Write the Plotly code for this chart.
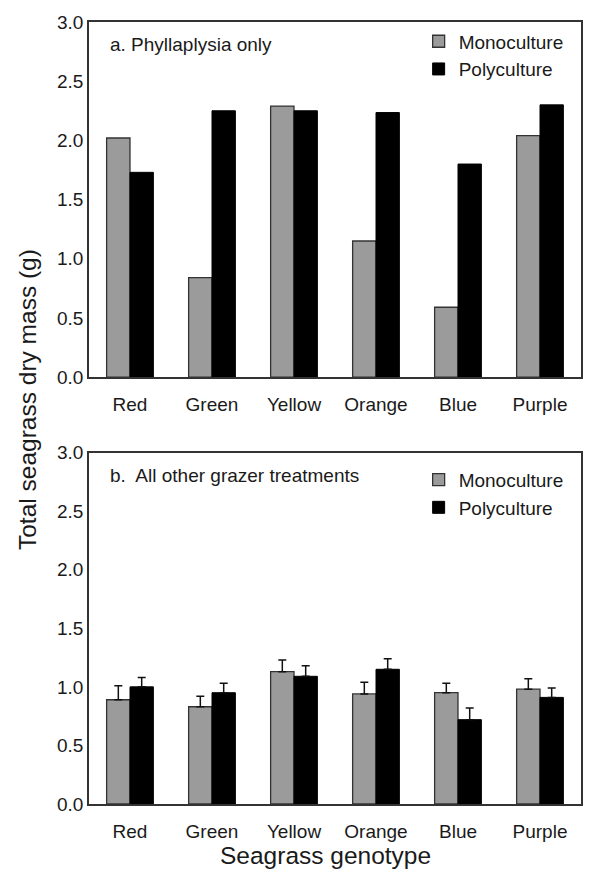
import plotly.graph_objects as go
from plotly.subplots import make_subplots

genotypes = ["Red", "Green", "Yellow", "Orange", "Blue", "Purple"]

# Panel a: Phyllaplysia only
mono_a = [2.02, 0.84, 2.29, 1.15, 0.59, 2.04]
poly_a = [1.73, 2.25, 2.25, 2.235, 1.80, 2.30]

# Panel b: All other grazer treatments (mean + upper SE)
mono_b = [0.89, 0.83, 1.13, 0.94, 0.95, 0.98]
mono_b_se = [0.12, 0.09, 0.10, 0.10, 0.08, 0.09]
poly_b = [1.00, 0.95, 1.09, 1.15, 0.72, 0.91]
poly_b_se = [0.08, 0.08, 0.09, 0.09, 0.10, 0.08]

y_ticks = [0.0, 0.5, 1.0, 1.5, 2.0, 2.5, 3.0]

FONT = "Liberation Sans, Arial, sans-serif"
GRAY = "#9b9b9b"
TXT = "#1a1a1a"

fig = make_subplots(rows=2, cols=1, vertical_spacing=0.0)

def add_pair(row, mono, poly, legend, mono_err=None, poly_err=None):
    eb = lambda e: None if e is None else dict(type="data", symmetric=False, array=e,
                                             arrayminus=[0] * len(e), color="#111",
                                             thickness=1.5, width=4)
    fig.add_trace(go.Bar(x=genotypes, y=mono, name="Monoculture", marker_color=GRAY,
                         marker_line=dict(color="#333", width=1.3), legend=legend,
                         error_y=eb(mono_err)), row=row, col=1)
    fig.add_trace(go.Bar(x=genotypes, y=poly, name="Polyculture", marker_color="#000",
                         marker_line=dict(color="#000", width=1), legend=legend,
                         error_y=eb(poly_err)), row=row, col=1)

add_pair(1, mono_a, poly_a, "legend")
add_pair(2, mono_b, poly_b, "legend2", mono_b_se, poly_b_se)

axis_common = dict(showline=True, mirror=True, linecolor="#333", linewidth=1.5,
                   showgrid=False, zeroline=False,
                   tickfont=dict(family=FONT, size=19, color=TXT))
fig.update_xaxes(**axis_common, ticks="", ticklabelstandoff=9)
fig.update_yaxes(**axis_common, range=[0, 3], tickvals=y_ticks, tickformat=".1f",
                 ticks="", ticklabelstandoff=0)

fig.update_layout(
    width=595, height=872,
    margin=dict(l=89, r=14, t=20, b=68),
    plot_bgcolor="white", paper_bgcolor="white",
    barmode="group", bargap=0.43, bargroupgap=0,
    font=dict(family=FONT, color=TXT),
    yaxis=dict(domain=[0.5459, 1.0]),
    yaxis2=dict(domain=[0.0, 0.4494]),
    legend=dict(x=0.67, y=0.9995, xanchor="left", yanchor="top",
                font=dict(family=FONT, size=19, color=TXT), bgcolor="rgba(0,0,0,0)",
                itemwidth=30, tracegroupgap=0),
    legend2=dict(x=0.67, y=0.4389, xanchor="left", yanchor="top",
                 font=dict(family=FONT, size=19, color=TXT), bgcolor="rgba(0,0,0,0)",
                 itemwidth=30, tracegroupgap=0),
    annotations=[
        dict(text="a. Phyllaplysia only", xref="x domain", yref="y domain",
             x=0.038, y=0.937, xanchor="left", yanchor="middle", showarrow=False,
             font=dict(family=FONT, size=19, color=TXT)),
        dict(text="b.  All other grazer treatments", xref="x2 domain", yref="y2 domain",
             x=0.038, y=0.934, xanchor="left", yanchor="middle", showarrow=False,
             font=dict(family=FONT, size=19, color=TXT)),
        dict(text="Total seagrass dry mass (g)", xref="paper", yref="paper",
             x=-0.126, y=0.5166, xanchor="center", yanchor="middle", textangle=-90,
             showarrow=False, font=dict(family=FONT, size=24.5, color=TXT)),
        dict(text="Seagrass genotype", xref="paper", yref="paper",
             x=0.4817, y=-0.0655, xanchor="center", yanchor="middle",
             showarrow=False, font=dict(family=FONT, size=24.5, color=TXT)),
    ],
)

fig.write_html("out.html", config={"displayModeBar": False},
               post_script="document.body.style.margin='0px';")
